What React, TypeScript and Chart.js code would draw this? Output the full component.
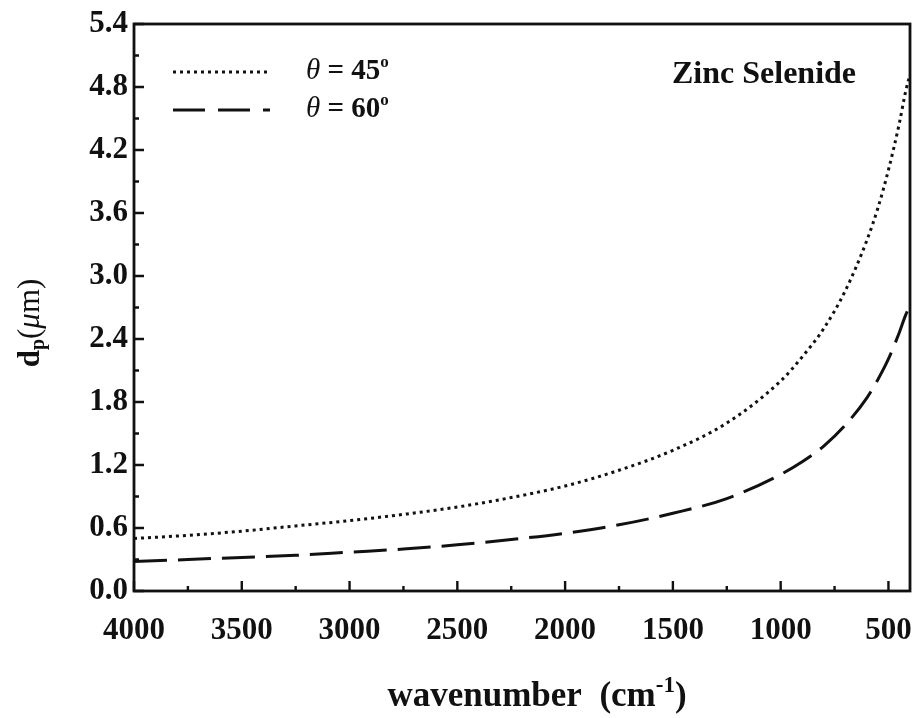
import React, { useEffect, useRef } from "react";
import { Chart, registerables } from "chart.js";

Chart.register(...registerables);

const WAVENUMBERS = [4000, 3750, 3500, 3250, 3000, 2750, 2500, 2250, 2000, 1750, 1500, 1250, 1000, 900, 800, 700, 600, 550, 500, 450, 420, 400];
const DP_45 = [0.50, 0.53, 0.57, 0.62, 0.67, 0.73, 0.80, 0.89, 1.00, 1.15, 1.34, 1.60, 2.00, 2.23, 2.50, 2.86, 3.34, 3.64, 4.01, 4.45, 4.76, 4.92];
const DP_60 = [0.28, 0.30, 0.32, 0.34, 0.37, 0.40, 0.44, 0.49, 0.55, 0.63, 0.74, 0.88, 1.11, 1.23, 1.38, 1.58, 1.84, 2.01, 2.21, 2.46, 2.63, 2.72];
const X_TICKS = [4000, 3500, 3000, 2500, 2000, 1500, 1000, 500];
const Y_TICKS = [0, 0.6, 1.2, 1.8, 2.4, 3.0, 3.6, 4.2, 4.8, 5.4];
const SERIES_LABELS = ["45", "60"];
const MATERIAL = "Zinc Selenide";

const FONT = "'Liberation Serif', 'Times New Roman', serif";
const DOT_DASH = [3, 4];
const LONG_DASH = [33, 11];

type Part = { t: string; f: string; dy?: number };

function drawRich(ctx: CanvasRenderingContext2D, parts: Part[], x: number, y: number, align: "left" | "center") {
  ctx.textAlign = "left";
  ctx.textBaseline = "alphabetic";
  let total = 0;
  for (const p of parts) {
    ctx.font = p.f;
    total += ctx.measureText(p.t).width;
  }
  let cx = align === "center" ? x - total / 2 : x;
  for (const p of parts) {
    ctx.font = p.f;
    ctx.fillText(p.t, cx, y + (p.dy || 0));
    cx += ctx.measureText(p.t).width;
  }
}

const decor = {
  id: "decor",
  afterDraw(chart: any) {
    const ctx: CanvasRenderingContext2D = chart.ctx;
    const { left, right, top, bottom } = chart.chartArea;
    const xs = chart.scales.x;
    const ys = chart.scales.y;
    ctx.save();
    ctx.strokeStyle = "#111";
    ctx.fillStyle = "#111";
    ctx.setLineDash([]);
    // frame
    ctx.lineWidth = 2.8;
    ctx.strokeRect(left, top, right - left, bottom - top);
    // ticks (inward)
    ctx.lineWidth = 2.4;
    const xt = xs.ticks.map((t: any) => t.value);
    ctx.beginPath();
    xt.forEach((v: number, i: number) => {
      const px = xs.getPixelForValue(v);
      ctx.moveTo(px, bottom);
      ctx.lineTo(px, bottom - 10);
      if (i < xt.length - 1) {
        const mx = xs.getPixelForValue((v + xt[i + 1]) / 2);
        ctx.moveTo(mx, bottom);
        ctx.lineTo(mx, bottom - 5);
      }
    });
    const yt = ys.ticks.map((t: any) => t.value);
    yt.forEach((v: number, i: number) => {
      const py = ys.getPixelForValue(v);
      ctx.moveTo(left, py);
      ctx.lineTo(left + 10, py);
      if (i < yt.length - 1) {
        const my = ys.getPixelForValue((v + yt[i + 1]) / 2);
        ctx.moveTo(left, my);
        ctx.lineTo(left + 5, my);
      }
    });
    ctx.stroke();

    // legend samples
    ctx.lineWidth = 3;
    ctx.setLineDash(DOT_DASH);
    ctx.beginPath();
    ctx.moveTo(173, 72);
    ctx.lineTo(268, 72);
    ctx.stroke();
    ctx.setLineDash([32, 13]);
    ctx.beginPath();
    ctx.moveTo(173, 110);
    ctx.lineTo(270, 110);
    ctx.stroke();
    ctx.setLineDash([]);

    const legY = [79, 117];
    SERIES_LABELS.forEach((lab, i) => {
      drawRich(
        ctx,
        [
          { t: "θ", f: `italic 29px ${FONT}` },
          { t: " = ", f: `bold 29px ${FONT}` },
          { t: lab, f: `bold 29px ${FONT}` },
          { t: "o", f: `bold 17px ${FONT}`, dy: -12 },
        ],
        306,
        legY[i],
        "left"
      );
    });

    // material label
    ctx.font = `bold 32px ${FONT}`;
    ctx.textAlign = "left";
    ctx.textBaseline = "alphabetic";
    ctx.fillText(MATERIAL, 672, 83);

    // x title
    drawRich(
      ctx,
      [
        { t: "wavenumber  (cm", f: `bold 35px ${FONT}` },
        { t: "-1", f: `bold 23px ${FONT}`, dy: -14 },
        { t: ")", f: `bold 35px ${FONT}` },
      ],
      537,
      706,
      "center"
    );

    // y title
    ctx.save();
    ctx.translate(39, 323);
    ctx.rotate(-Math.PI / 2);
    drawRich(
      ctx,
      [
        { t: "d", f: `bold 31px ${FONT}` },
        { t: "p", f: `bold 20px ${FONT}`, dy: 5 },
        { t: "(", f: `31px ${FONT}` },
        { t: "μ", f: `italic 31px ${FONT}` },
        { t: "m)", f: `31px ${FONT}` },
      ],
      0,
      0,
      "center"
    );
    ctx.restore();
    ctx.restore();
  },
};

export default function App() {
  const ref = useRef<HTMLCanvasElement | null>(null);
  useEffect(() => {
    if (!ref.current) return;
    const chart = new Chart(ref.current, {
      type: "line",
      data: {
        datasets: [
          {
            label: "θ = 45°",
            data: WAVENUMBERS.map((x, i) => ({ x, y: DP_45[i] })),
            borderColor: "#111",
            borderWidth: 3,
            borderDash: DOT_DASH,
            pointRadius: 0,
            cubicInterpolationMode: "monotone",
            fill: false,
          },
          {
            label: "θ = 60°",
            data: WAVENUMBERS.map((x, i) => ({ x, y: DP_60[i] })),
            borderColor: "#111",
            borderWidth: 3,
            borderDash: LONG_DASH,
            pointRadius: 0,
            cubicInterpolationMode: "monotone",
            fill: false,
          },
        ],
      },
      options: {
        responsive: false,
        animation: false,
        layout: { padding: { left: 0, top: 24, right: 13, bottom: 0 } },
        plugins: { legend: { display: false }, tooltip: { enabled: false } },
        scales: {
          x: {
            type: "linear",
            reverse: true,
            min: 400,
            max: 4000,
            afterBuildTicks: (s: any) => {
              s.ticks = X_TICKS.map((v) => ({ value: v }));
            },
            afterFit: (s: any) => {
              s.height = 127;
              s.paddingLeft = 0;
              s.paddingRight = 0;
            },
            grid: { display: false, drawTicks: false },
            border: { display: false },
            ticks: {
              padding: 21,
              maxRotation: 0,
              autoSkip: false,
              color: "#111",
              font: { family: FONT, size: 31, weight: "bold" },
              callback: (v: any) => String(v),
            },
          },
          y: {
            type: "linear",
            min: 0,
            max: 5.4,
            afterBuildTicks: (s: any) => {
              s.ticks = Y_TICKS.map((v) => ({ value: v }));
            },
            afterFit: (s: any) => {
              s.width = 134;
              s.paddingTop = 0;
              s.paddingBottom = 0;
            },
            grid: { display: false, drawTicks: false },
            border: { display: false },
            ticks: {
              padding: 6,
              autoSkip: false,
              color: "#111",
              font: { family: FONT, size: 31, weight: "bold" },
              callback: (v: any) => Number(v).toFixed(1),
            },
          },
        },
      },
      plugins: [decor],
    } as any);
    return () => chart.destroy();
  }, []);
  return (
    <div style={{ position: "absolute", left: 0, top: 0, width: 923, height: 718, background: "#fff" }}>
      <canvas ref={ref} width={923} height={718} />
    </div>
  );
}
